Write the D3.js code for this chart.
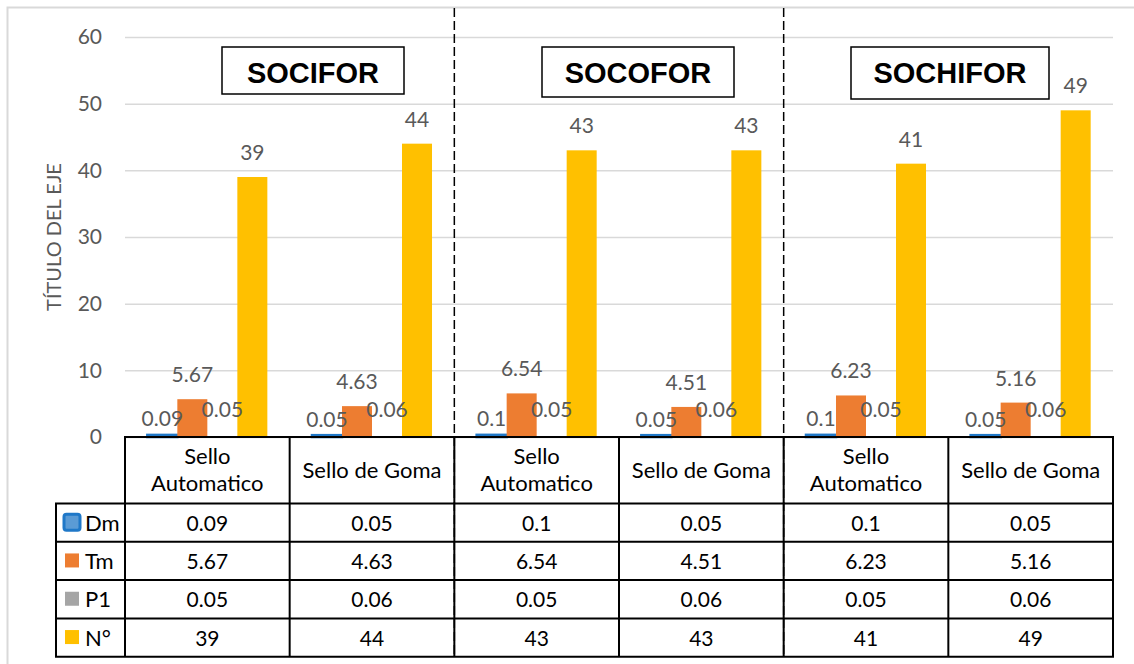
<!DOCTYPE html>
<html>
<head>
<meta charset="utf-8">
<script src="https://cdn.jsdelivr.net/npm/d3@7"></script>
<style>
  html, body { margin: 0; padding: 0; background: #fff; }
  svg { display: block; }
  text { font-family: Lato, "Open Sans", sans-serif; }
</style>
</head>
<body>
<svg id="chart" width="1134" height="664"></svg>
<script>
// Companies (one per pair of categories)
const groups = ["SOCIFOR", "SOCOFOR", "SOCHIFOR"];
// Stamp type per category
const categories = ["Sello Automatico", "Sello de Goma", "Sello Automatico", "Sello de Goma", "Sello Automatico", "Sello de Goma"];
// Series
const seriesNames = ["Dm", "Tm", "P1", "N°"];
const dmValues = [0.09, 0.05, 0.1, 0.05, 0.1, 0.05];
const tmValues = [5.67, 4.63, 6.54, 4.51, 6.23, 5.16];
const p1Values = [0.05, 0.06, 0.05, 0.06, 0.05, 0.06];
const nValues = [39, 44, 43, 43, 41, 49];
// Value axis ticks
const yTicks = [0, 10, 20, 30, 40, 50, 60];
const axisTitle = "TÍTULO DEL EJE";

const seriesValues = [dmValues, tmValues, p1Values, nValues];
const fills = ["#5B9BD5", "#ED7D31", "#A5A5A5", "#FFC000"];
const strokes = ["#1F78C8", "none", "none", "none"];
const labelGap = [10, 17, 20, 17];

const svg = d3.select("#chart");
const plot = { left: 125, right: 1113, top: 37, bottom: 437 };

const x = d3.scaleBand()
  .domain(d3.range(categories.length))
  .range([plot.left, plot.right])
  .padding(0);
const xs = d3.scaleBand()
  .domain(d3.range(seriesNames.length))
  .range([0, x.bandwidth()])
  .paddingInner(0)
  .paddingOuter(0.744);
const y = d3.scaleLinear().domain([0, 60]).range([plot.bottom, plot.top]);

// Chart area frame (left and top edges)
svg.append("path")
  .attr("d", "M7.5,664 V7.5 H1134")
  .attr("fill", "none")
  .attr("stroke", "#d9d9d9")
  .attr("stroke-width", 2);

// Gridlines and tick labels
const yAxis = d3.axisLeft(y).tickValues(yTicks)
  .tickSize(-(plot.right - plot.left)).tickPadding(23);
const gAxis = svg.append("g")
  .attr("transform", `translate(${plot.left},0)`)
  .call(yAxis);
gAxis.select(".domain").remove();
gAxis.selectAll(".tick line").attr("stroke", "#d9d9d9").attr("stroke-width", 1.5);
gAxis.selectAll(".tick text")
  .attr("fill", "#595959")
  .style("font-size", "21px")
  .style("font-family", "Lato, sans-serif");

// Axis title
svg.append("text")
  .attr("transform", `translate(61,237) rotate(-90)`)
  .attr("text-anchor", "middle")
  .attr("fill", "#595959")
  .style("font-size", "20px")
  .text(axisTitle);

// Company separators
const sepX = [x(2), x(4)];
svg.selectAll("line.sep").data(sepX).enter().append("line")
  .attr("class", "sep")
  .attr("x1", d => d).attr("x2", d => d)
  .attr("y1", 8).attr("y2", 657)
  .attr("stroke", "#000")
  .attr("stroke-width", 1.5)
  .attr("stroke-dasharray", "9,4");

// Bars
const barData = [];
seriesValues.forEach((vals, s) => vals.forEach((v, c) => barData.push({ s, c, v })));

svg.append("g").selectAll("rect").data(barData).enter().append("rect")
  .attr("x", d => x(d.c) + xs(d.s))
  .attr("width", xs.bandwidth())
  .attr("y", d => y(d.v) - (d.s === 0 ? 1.5 : 0))
  .attr("height", d => y(0) - y(d.v) + (d.s === 0 ? 1.5 : 0))
  .attr("fill", d => fills[d.s])
  .attr("stroke", d => strokes[d.s])
  .attr("stroke-width", 2.5);

// Data labels
svg.append("g").selectAll("text").data(barData).enter().append("text")
  .attr("x", d => x(d.c) + xs(d.s) + xs.bandwidth() / 2)
  .attr("y", d => y(d.v) - labelGap[d.s])
  .attr("text-anchor", "middle")
  .attr("fill", "#595959")
  .style("font-size", "21px")
  .text(d => String(d.v));

// Company title boxes
const boxes = [
  { x0: 222, x1: 404, y0: 47, y1: 94 },
  { x0: 542, x1: 734, y0: 47, y1: 97 },
  { x0: 851, x1: 1049, y0: 47, y1: 99 }
];
const gBox = svg.append("g").selectAll("g").data(groups).enter().append("g");
gBox.append("rect")
  .attr("x", (d, i) => boxes[i].x0)
  .attr("y", (d, i) => boxes[i].y0)
  .attr("width", (d, i) => boxes[i].x1 - boxes[i].x0)
  .attr("height", (d, i) => boxes[i].y1 - boxes[i].y0)
  .attr("fill", "#fff")
  .attr("stroke", "#000")
  .attr("stroke-width", 1.5);
gBox.append("text")
  .attr("x", (d, i) => (boxes[i].x0 + boxes[i].x1) / 2)
  .attr("y", 83)
  .attr("text-anchor", "middle")
  .attr("fill", "#000")
  .style("font-family", "'Liberation Sans', Arial, sans-serif")
  .style("font-weight", "bold")
  .style("font-size", "29px")
  .text(d => d);

// Data table
const table = { left: 56, headTop: 437, headBottom: 503.5, rowH: 38.3 };
const tbl = svg.append("g");
const rowTop = i => table.headBottom + i * table.rowH;

// Category header cells
const headMid = (table.headTop + table.headBottom) / 2;
categories.forEach((cat, c) => {
  const cx = x(c) + x.bandwidth() / 2;
  const t = tbl.append("text")
    .attr("x", cx).attr("y", headMid + 8)
    .attr("text-anchor", "middle")
    .attr("fill", "#000")
    .style("font-size", "22px")
    .text(cat);
  if (t.node().getComputedTextLength() > x.bandwidth() - 16) {
    const words = cat.split(" ");
    t.text(null);
    t.append("tspan").attr("x", cx).attr("y", headMid - 6).text(words[0]);
    t.append("tspan").attr("x", cx).attr("y", headMid + 21).text(words.slice(1).join(" "));
  }
});

// Value rows with legend keys
seriesNames.forEach((name, s) => {
  const mid = rowTop(s) + table.rowH / 2;
  if (s === 0) {
    tbl.append("rect")
      .attr("x", 64).attr("y", mid - 8.5).attr("width", 16).attr("height", 16)
      .attr("rx", 2.5)
      .attr("fill", fills[s]).attr("stroke", strokes[s]).attr("stroke-width", 3);
  } else {
    tbl.append("rect")
      .attr("x", 65).attr("y", mid - 7.5).attr("width", 14).attr("height", 14)
      .attr("fill", fills[s]);
  }
  tbl.append("text")
    .attr("x", 85).attr("y", mid + 8)
    .attr("fill", "#000")
    .style("font-size", "22px")
    .text(name);
  seriesValues[s].forEach((v, c) => {
    tbl.append("text")
      .attr("x", x(c) + x.bandwidth() / 2).attr("y", mid + 8)
      .attr("text-anchor", "middle")
      .attr("fill", "#000")
      .style("font-size", "21px")
      .text(String(v));
  });
});

// Table grid lines
const lineStyle = sel => sel.attr("stroke", "#000").attr("stroke-width", 2).attr("fill", "none");
const tableBottom = rowTop(seriesNames.length);
tbl.append("line").attr("x1", plot.left - 1).attr("x2", plot.right + 1)
  .attr("y1", table.headTop).attr("y2", table.headTop).call(lineStyle);
d3.range(seriesNames.length + 1).forEach(i => {
  tbl.append("line").attr("x1", table.left - 1).attr("x2", plot.right + 1)
    .attr("y1", rowTop(i)).attr("y2", rowTop(i)).call(lineStyle);
});
tbl.append("line").attr("x1", table.left).attr("x2", table.left)
  .attr("y1", table.headBottom).attr("y2", tableBottom).call(lineStyle);
d3.range(categories.length + 1).forEach(c => {
  const xx = c < categories.length ? x(c) : plot.right;
  tbl.append("line").attr("x1", xx).attr("x2", xx)
    .attr("y1", table.headTop).attr("y2", tableBottom).call(lineStyle);
});
</script>
</body>
</html>
